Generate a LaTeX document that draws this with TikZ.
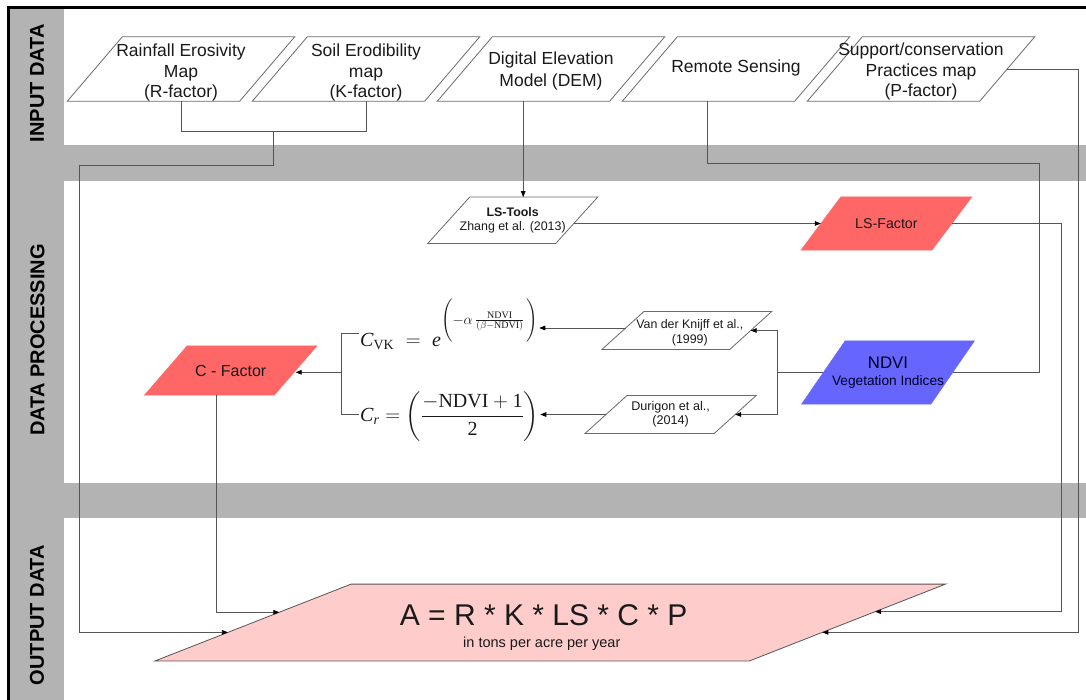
\documentclass[tikz,border=0pt]{standalone}
\usepackage{amsmath}
\usepackage{fontspec}
\setmainfont{Liberation Sans}
\newfontfamily\tms{Liberation Serif}
\usetikzlibrary{arrows.meta,calc}
\pgfdeclarelayer{bands}
\pgfdeclarelayer{shapes}
\pgfsetlayers{bands,shapes,main}
\definecolor{bandc}{HTML}{B3B3B3}
\definecolor{redf}{HTML}{FF6666}
\definecolor{bluef}{HTML}{6666FF}
\definecolor{pinkf}{HTML}{FFCCCC}
\definecolor{lnc}{HTML}{555555}
\definecolor{txt}{HTML}{1A1A1A}
\definecolor{shpc}{HTML}{6B6B6B}
\newcommand\tmsr[1]{\text{\tms #1}}
\newcommand\tmsi[1]{\text{\tms\itshape #1}}
\newcommand\parash[3]{%
  \begin{pgfonlayer}{shapes}
  \path[#3] ([xshift=#2]#1.north west) -- ([xshift=#2]#1.north east) -- ([xshift=-#2]#1.south east) -- ([xshift=-#2]#1.south west) -- cycle;
  \end{pgfonlayer}}
\begin{document}
\begin{tikzpicture}[x=1pt,y=-1pt,
  conn/.style={draw=lnc, line width=0.75pt},
  arr/.style={conn, -{Triangle[length=6pt,width=4.6pt,color=black]}},
  box/.style={inner sep=0pt, align=center, text=txt},
  inp/.style={box, minimum width=172pt, minimum height=64pt},
  inptext/.style={box, font=\fontsize{17.5}{20.6}\selectfont},
  whiteshape/.style={fill=white, draw=shpc, line width=0.8pt},
  redshape/.style={fill=redf, draw=redf},
  blueshape/.style={fill=bluef, draw=bluef},
  outshape/.style={fill=pinkf, draw=lnc, line width=0.8pt},
  seclab/.style={rotate=90, inner sep=0pt, text=black, font=\bfseries\fontsize{20}{24}\selectfont},
  fml/.style={inner sep=1pt, text=txt, font=\fontsize{20}{24}\selectfont}]
\useasboundingbox (0,0) rectangle (1086,700);
\begin{pgfonlayer}{bands}
\fill[white] (0,0) rectangle (1086,700);
\fill[bandc] (8.5,7.6) rectangle (63.7,700);
\fill[bandc] (63.7,145) rectangle (1086,181.5);
\fill[bandc] (63.7,483) rectangle (1086,518);
\draw[line width=2.2pt] (8.5,703) -- (8.5,7.6) -- (1090,7.6);
\end{pgfonlayer}

% section labels
\node[seclab] (labin) at (37,83) {INPUT DATA};
\node[seclab] (labproc) at (37.5,340) {DATA PROCESSING};
\node[seclab] (labout) at (37,615) {OUTPUT DATA};

% input nodes
\node[inp] (rain) at (181,69) {};
\node[inp] (soil) at (366,69) {};
\node[inp] (dem) at (551,69) {};
\node[inp] (rs) at (736,69) {};
\node[inp] (sup) at (921,69) {};
\foreach \n in {rain,soil,dem,rs,sup} {\parash{\n}{27.5pt}{whiteshape}}
\node[inptext] (raint) at ([yshift=-3.6pt]rain.center) {Rainfall Erosivity\\Map\\(R-factor)};
\node[inptext] (soilt) at ([yshift=-3.6pt]soil.center) {Soil Erodibility\\map\\(K-factor)};
\node[inptext, font=\fontsize{17.5}{22}\selectfont] (demt) at ([yshift=-2pt]dem.center) {Digital Elevation\\Model (DEM)};
\node[inptext] (rst) at ([yshift=1.5pt]rs.center) {Remote Sensing};
\node[inptext] (supt) at ([yshift=-2.6pt]sup.center) {Support/conservation\\Practices map\\(P-factor)};

% processing nodes
\node[box, minimum width=127.6pt, minimum height=46pt, font=\fontsize{12.4}{13.4}\selectfont] (lstools) at (512.7,220.3) {\textbf{LS-Tools}\\Zhang et al. (2013)};
\parash{lstools}{21pt}{whiteshape}
\node[box, minimum width=130.7pt, minimum height=53pt, font=\fontsize{14.2}{16}\selectfont] (lsf) at (886.4,223.5) {LS-Factor};
\parash{lsf}{20pt}{redshape}
\node[box, minimum width=129pt, minimum height=63pt, font=\fontsize{13.7}{17.6}\selectfont, text=black!85!blue] (ndvi) at (888,372.5) {{\fontsize{16.8}{17.6}\selectfont NDVI}\\Vegetation Indices};
\parash{ndvi}{21.8pt}{blueshape}
\node[box, minimum width=127.4pt, minimum height=37.6pt] (van) at (686.8,330.5) {};
\parash{van}{21pt}{whiteshape}
\node[box, font=\fontsize{12.4}{14.3}\selectfont] (vant) at ([shift={(3pt,-2.2pt)}]van.center) {Van der Knijff et al.,\\(1999)};
\node[box, minimum width=128.8pt, minimum height=37.6pt, font=\fontsize{12.6}{14}\selectfont] (dur) at (670.6,414.5) {Durigon et al.,\\(2014)};
\parash{dur}{21pt}{whiteshape}
\node[box, minimum width=129.5pt, minimum height=49pt, font=\fontsize{16}{18}\selectfont] (cfac) at (230.7,370.5) {C - Factor};
\parash{cfac}{21.4pt}{redshape}

% formulas
\node[fml, anchor=base west] (cvk) at (359,346.5) {$\tmsi{C}_{\tmsr{VK}}\;=\;\tmsi{e}\raisebox{22.5pt}{$\scriptstyle\left(\vrule height 19pt depth 19pt width 0pt -\alpha\,\frac{\tmsr{NDVI}}{(\beta-\tmsr{NDVI})}\,\right)$}$};
\node[fml, anchor=base west] (cr) at (359,421.5) {$\tmsi{C}_{\tmsi{r}} = \left(\dfrac{-\tmsr{NDVI}+\tmsr{1}}{\tmsr{2}}\right)$};

% output
\node[box, minimum width=594pt, minimum height=76.4pt] (out) at (550.3,622.5) {};
\parash{out}{98pt}{outshape}
\node[box, font=\fontsize{30}{34}\selectfont] (outeq) at (543.7,615) {A = R * K * LS * C * P};
\node[box, font=\fontsize{14.5}{17}\selectfont] (outunit) at (541.8,644) {in tons per acre per year};

% helper coordinates
\coordinate (oBL) at ([xshift=-98pt]out.south west);
\coordinate (oTL) at ([xshift=98pt]out.north west);
\coordinate (oBR) at ([xshift=-98pt]out.south east);
\coordinate (oTR) at ([xshift=98pt]out.north east);
\coordinate (oL1) at ($(oBL)!0.3717!(oTL)$);
\coordinate (oL2) at ($(oBL)!0.6335!(oTL)$);
\coordinate (oR1) at ($(oBR)!0.641!(oTR)$);
\coordinate (oR2) at ($(oBR)!0.3717!(oTR)$);
\coordinate (rk) at (273.5,131.7);
\coordinate (rkl) at (79.2,165.7);
\coordinate (rsb) at (1039.7,163.3);
\coordinate (lsr) at (1061.2,0);
\coordinate (supr) at (1078,0);
\coordinate (nd) at (777.5,372.5);
\coordinate (br) at (341.7,372.3);
\coordinate (demout) at ([xshift=-27.8pt]dem.south);
\coordinate (rsout) at ([xshift=-28.5pt]rs.south);
\coordinate (cfout) at ([xshift=-14.7pt]cfac.south);
\coordinate (lsa) at ($(lstools.east)+(-2.9,3.2)$);
\coordinate (vanl) at ($(van.west)+(2.8,-2.5)$);

% connectors
\draw[conn] (rain.south) |- (rk) -| (soil.south);
\draw[arr] (rk) |- (rkl) |- (oL1);
\draw[arr] (cfout) |- (oL2);
\draw[arr] (demout) -- (demout |- lstools.north);
\draw[arr] (lsa) -- (lsa -| lsf.west);
\draw[arr] (lsf.east) -| (lsr |- oR1) -- (oR1);
\draw[arr] (sup.east) -| (supr |- oR2) -- (oR2);
\draw[conn] (rsout) |- (rsb) |- (ndvi.east);
\draw[conn] (ndvi.west) -- (nd);
\draw[arr] (nd) |- (van.east);
\draw[arr] (nd) |- (dur.east);
\draw[arr] (vanl) -- (vanl -| cvk.east);
\draw[arr] (dur.west) -- (dur.west -| cr.east);
\draw[conn] ([yshift=13.2pt]cvk.base west) -| (br) |- ([yshift=6.7pt]cr.base west);
\draw[arr] (br) -- (br -| cfac.east);
\end{tikzpicture}
\end{document}
